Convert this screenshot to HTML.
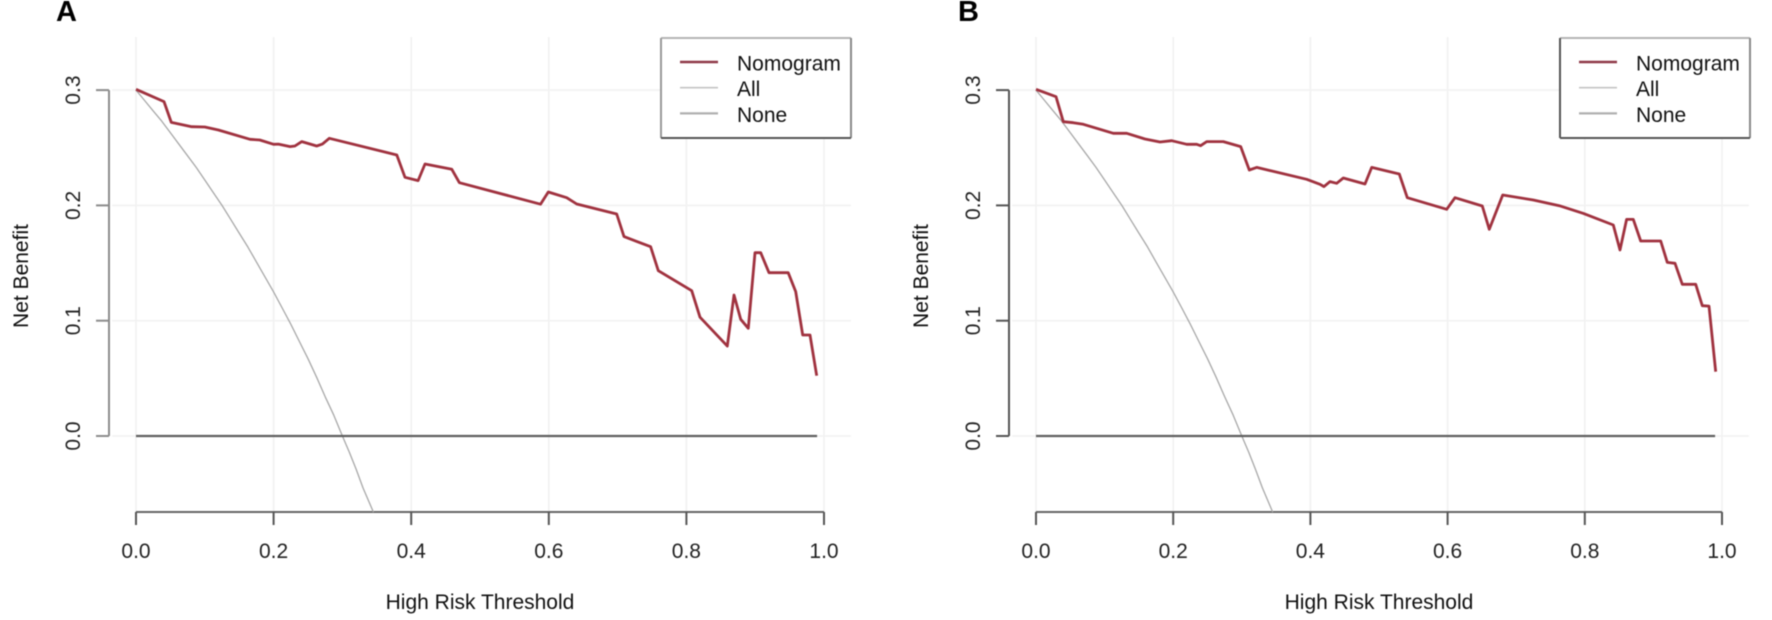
<!DOCTYPE html>
<html lang="en">
<head>
<meta charset="utf-8">
<title>Decision curves</title>
<style>
html,body{margin:0;padding:0;background:#fff;width:1772px;height:620px;overflow:hidden}
svg{display:block;filter:blur(0.45px)}
text{font-family:"Liberation Sans",sans-serif}
</style>
</head>
<body>
<svg id="chart" xmlns="http://www.w3.org/2000/svg" width="1772" height="620" viewBox="0 0 1772 620"></svg>
<script>
// Shared axis data
const xTicks = [0, 0.2, 0.4, 0.6, 0.8, 1];
const xTickLabels = ["0.0", "0.2", "0.4", "0.6", "0.8", "1.0"];
const yTicks = [0, 0.1, 0.2, 0.3];
const yTickLabels = ["0.0", "0.1", "0.2", "0.3"];
const legendLabels = ["Nomogram", "All", "None"];

// Treat-all curve
const allThresholds = [0, 0.0125, 0.025, 0.0375, 0.05, 0.0625, 0.075, 0.0875, 0.1, 0.1125, 0.125, 0.1375, 0.15, 0.1625, 0.175, 0.1875, 0.2, 0.2125, 0.225, 0.2375, 0.25, 0.2625, 0.275, 0.2875, 0.3, 0.31, 0.32, 0.33, 0.345];
const allNetBenefit = [0.3, 0.291, 0.282, 0.273, 0.263, 0.253, 0.243, 0.233, 0.222, 0.211, 0.2, 0.188, 0.176, 0.164, 0.151, 0.138, 0.125, 0.111, 0.097, 0.082, 0.067, 0.051, 0.034, 0.018, 0, -0.014, -0.029, -0.045, -0.066];

// Treat-none curve
const noneThresholds = [0, 0.99];
const noneNetBenefit = [0, 0];

// Panel A nomogram curve
const thresholdsA = [0, 0.0407, 0.0513, 0.081, 0.1, 0.1197, 0.1657, 0.18, 0.2, 0.207, 0.224, 0.231, 0.241, 0.2627, 0.271, 0.281, 0.379, 0.391, 0.41, 0.42, 0.459, 0.47, 0.588, 0.5993, 0.626, 0.6405, 0.6987, 0.7093, 0.748, 0.7592, 0.8077, 0.8198, 0.8595, 0.8692, 0.8789, 0.89, 0.8997, 0.908, 0.92, 0.948, 0.9589, 0.969, 0.9797, 0.9894];
const netBenefitA = [0.3007, 0.29, 0.272, 0.2683, 0.268, 0.2654, 0.2573, 0.2567, 0.253, 0.2532, 0.251, 0.2515, 0.2553, 0.2515, 0.2532, 0.2582, 0.2437, 0.2244, 0.2215, 0.2359, 0.2313, 0.2197, 0.201, 0.2116, 0.2067, 0.2012, 0.1925, 0.1729, 0.1642, 0.1434, 0.126, 0.103, 0.078, 0.1223, 0.1012, 0.0934, 0.159, 0.159, 0.1416, 0.1416, 0.1252, 0.0876, 0.0876, 0.0523];

// Panel B nomogram curve
const thresholdsB = [0, 0.0292, 0.0398, 0.0544, 0.069, 0.1127, 0.1322, 0.1589, 0.1808, 0.1978, 0.2197, 0.2342, 0.24, 0.2488, 0.273, 0.2984, 0.311, 0.3217, 0.3946, 0.414, 0.4198, 0.4286, 0.4383, 0.448, 0.4796, 0.4893, 0.5296, 0.5413, 0.5987, 0.6108, 0.6506, 0.6608, 0.6803, 0.725, 0.7628, 0.7979, 0.8416, 0.8513, 0.861, 0.8707, 0.8815, 0.9106, 0.9203, 0.9315, 0.9422, 0.9617, 0.9713, 0.9811, 0.9908];
const netBenefitB = [0.3007, 0.2943, 0.2726, 0.2717, 0.2703, 0.2625, 0.2625, 0.2576, 0.255, 0.2561, 0.253, 0.253, 0.2518, 0.2553, 0.2553, 0.251, 0.2307, 0.233, 0.2226, 0.2183, 0.2163, 0.2206, 0.2192, 0.2238, 0.2186, 0.233, 0.2272, 0.2067, 0.1966, 0.2067, 0.1995, 0.1793, 0.209, 0.2047, 0.1997, 0.1931, 0.183, 0.1613, 0.1879, 0.1879, 0.1691, 0.1691, 0.1506, 0.1498, 0.1316, 0.1316, 0.113, 0.1127, 0.0558];

const SVG_NS = "http://www.w3.org/2000/svg";
const root = document.getElementById("chart");

function make(parent, tag, attrs, content) {
  const el = document.createElementNS(SVG_NS, tag);
  for (const k in attrs) el.setAttribute(k, attrs[k]);
  if (content !== undefined) el.textContent = content;
  parent.appendChild(el);
  return el;
}

function drawPanel(p) {
  const xPos = v => p.x0 + p.xSpan * v;
  const yPos = v => 436 - 1153 * v;
  const linePoints = (xs, ys) => xs.map((x, i) => xPos(x).toFixed(1) + "," + yPos(ys[i]).toFixed(1)).join(" ");

  const g = make(root, "g", {});
  
  

  const letter = make(g, "text", {x: p.letterX, y: 21, "font-size": 29, "font-weight": "bold", fill: "#000"}, p.id);
  
  

  // grid
  xTicks.forEach(t => {
    const gl = make(g, "line", {x1: xPos(t), x2: xPos(t), y1: 37, y2: 512, stroke: "#f1f1f1", "stroke-width": 1.6});
    
    
  });
  yTicks.forEach(t => {
    const gl = make(g, "line", {x1: p.axisX + 3, x2: p.gridEnd, y1: yPos(t), y2: yPos(t), stroke: "#f2f2f2", "stroke-width": 1.6});
    
    
  });

  // y axis
  const yAxis = make(g, "line", {x1: p.axisX, x2: p.axisX, y1: yPos(yTicks[yTicks.length - 1]), y2: yPos(yTicks[0]), stroke: p.yAxisColor, "stroke-width": 2});
  
  
  yTicks.forEach((t, i) => {
    const tick = make(g, "line", {x1: p.axisX - 13, x2: p.axisX, y1: yPos(t), y2: yPos(t), stroke: p.yAxisColor, "stroke-width": 2});
    
    
    const label = make(g, "text", {x: 0, y: 0, transform: "translate(" + (p.axisX - 29) + "," + yPos(t) + ") rotate(-90)", "text-anchor": "middle", "font-size": 21, fill: "#222"}, yTickLabels[i]);
    
    
  });
  const yTitle = make(g, "text", {x: 0, y: 0, transform: "translate(" + (p.axisX - 81) + ",276) rotate(-90)", "text-anchor": "middle", "font-size": 21, fill: "#111"}, "Net Benefit");
  
  

  // x axis
  const xAxis = make(g, "line", {x1: xPos(xTicks[0]), x2: xPos(xTicks[xTicks.length - 1]), y1: 512, y2: 512, stroke: "#666", "stroke-width": 2});
  
  
  xTicks.forEach((t, i) => {
    const tick = make(g, "line", {x1: xPos(t), x2: xPos(t), y1: 512, y2: 525, stroke: "#555", "stroke-width": 2});
    
    
    const label = make(g, "text", {x: xPos(t), y: 558, "text-anchor": "middle", "font-size": 21, fill: "#222"}, xTickLabels[i]);
    
    
  });
  const xTitle = make(g, "text", {x: xPos(0.5), y: 609, "text-anchor": "middle", "font-size": 21, fill: "#111"}, "High Risk Threshold");
  
  

  // series
  const allLine = make(g, "polyline", {points: linePoints(allThresholds, allNetBenefit), fill: "none", stroke: "#a8a8a8", "stroke-width": 1.3, "stroke-linejoin": "round"});
  
  
  const noneLine = make(g, "polyline", {points: linePoints(noneThresholds, noneNetBenefit), fill: "none", stroke: "#5f5f5f", "stroke-width": 2.2});
  
  
  const nomo = make(g, "polyline", {points: linePoints(p.thresholds, p.netBenefit), fill: "none", stroke: "#a0323f", "stroke-width": 2.8, "stroke-linejoin": "round"});
  
  

  // legend
  const lg = make(g, "g", {});
  
  
  const box = make(lg, "rect", {x: p.legendX, y: 38, width: 190, height: 100, fill: "#fff", stroke: "none"});
  
  
  const edges = [
    [p.legendX, 38, p.legendX + 190, 38, "#b5b5b5"],
    [p.legendX + 190, 38, p.legendX + 190, 138, "#8a8a8a"],
    [p.legendX, 38, p.legendX, 138, p.legendLeftColor],
    [p.legendX, 138, p.legendX + 190, 138, "#555"]
  ];
  edges.forEach(e => {
    const edge = make(lg, "line", {x1: e[0], y1: e[1], x2: e[2], y2: e[3], stroke: e[4], "stroke-width": 2});
    
    
  });
  const keyColors = ["#8f3a48", "#c4c4c4", "#b0b0b0"];
  const keyWidths = [2.6, 1.6, 2.2];
  legendLabels.forEach((name, i) => {
    const ey = 62 + i * 25.7;
    const key = make(lg, "line", {x1: p.legendX + 19, x2: p.legendX + 57, y1: ey, y2: ey, stroke: keyColors[i], "stroke-width": keyWidths[i]});
    
    
    const txt = make(lg, "text", {x: p.legendX + 76, y: ey + 8.5, "font-size": 21, fill: "#111"}, name);
    
    
  });
}

drawPanel({id: "A", letterX: 56, x0: 136, xSpan: 688, axisX: 109, gridEnd: 851, legendX: 661, yAxisColor: "#8c8c8c", legendLeftColor: "#999", thresholds: thresholdsA, netBenefit: netBenefitA});
drawPanel({id: "B", letterX: 958, x0: 1036, xSpan: 686, axisX: 1009, gridEnd: 1749, legendX: 1560, yAxisColor: "#555", legendLeftColor: "#555", thresholds: thresholdsB, netBenefit: netBenefitB});
</script>
</body>
</html>
